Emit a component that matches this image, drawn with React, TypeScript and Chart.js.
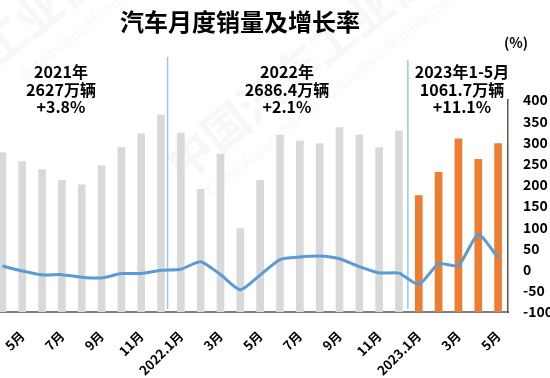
import React, { useEffect, useRef } from "react";
import { Chart, registerables } from "chart.js";

Chart.register(...registerables);

// ---- data ----
const categories = [
  "2021.4", "2021.5", "2021.6", "2021.7", "2021.8", "2021.9", "2021.10", "2021.11", "2021.12",
  "2022.1", "2022.2", "2022.3", "2022.4", "2022.5", "2022.6", "2022.7", "2022.8", "2022.9", "2022.10", "2022.11", "2022.12",
  "2023.1", "2023.2", "2023.3", "2023.4", "2023.5",
];
const tickLabels = [
  "", "5月", "", "7月", "", "9月", "", "11月", "",
  "2022.1月", "", "3月", "", "5月", "", "7月", "", "9月", "", "11月", "",
  "2023.1月", "", "3月", "", "5月",
];
// monthly sales (万辆)
const sales = [
  225.2, 212.8, 201.5, 186.4, 179.9, 206.7, 233.2, 252.2, 278.6,
  253.1, 173.7, 223.4, 118.1, 186.2, 250.2, 242.0, 238.3, 261.0, 250.5, 232.5, 255.9,
  164.9, 197.6, 245.1, 215.9, 238.2,
];
// year-on-year growth (%)
const growth = [
  8.6, -3.1, -12.4, -11.9, -17.8, -19.6, -9.4, -9.1, -1.6,
  0.9, 18.7, -11.7, -47.6, -12.6, 23.8, 29.7, 32.1, 25.7, 6.9, -7.9, -8.4,
  -35.0, 13.5, 9.7, 82.7, 27.9,
];
const rightTicks = { min: -100, max: 400, step: 50 };
const leftAxis = { min: 0, max: 300 };
const title = "汽车月度销量及增长率";
const periodNotes = [
  ["2021年", "2627万辆", "+3.8%"],
  ["2022年", "2686.4万辆", "+2.1%"],
  ["2023年1-5月", "1061.7万辆", "+11.1%"],
];

const OFFSET = 40; // canvas starts 40px left of the page
const FONT = '"Noto Sans CJK SC", "Noto Sans", sans-serif';

export default function App() {
  const ref = useRef<HTMLCanvasElement | null>(null);

  useEffect(() => {
    if (!ref.current) return;
    const barColors = categories.map((c) => (c.startsWith("2023") ? "#ED7D31" : "#D9D9D9"));

    const watermark = (ctx: any, x: number, y: number, big: string, small: string) => {
      ctx.save();
      ctx.fillStyle = "rgba(200,206,220,0.16)";
      ctx.translate(x + OFFSET, y);
      ctx.rotate(-0.68);
      ctx.font = `bold 46px ${FONT}`;
      ctx.textBaseline = "middle";
      ctx.fillText(big, 0, 0);
      ctx.font = `15px ${FONT}`;
      ctx.fillText(small, 14, 40);
      ctx.restore();
    };

    const decor = {
      id: "decor",
      beforeDraw(chart: any) {
        const ctx = chart.ctx;
        ctx.save();
        ctx.fillStyle = "#ffffff";
        ctx.fillRect(0, 0, chart.width, chart.height);
        ctx.restore();
        watermark(ctx, 172, 170, "中国汽车工业协会", "China Association of Automobile Manufacturers");
        watermark(ctx, -15, 55, "工业协会", "Automobile Manufacturers");
      },
      beforeDatasetsDraw(chart: any) {
        const ctx = chart.ctx;
        const xs = chart.scales.x;
        ctx.save();
        ctx.strokeStyle = "#9DC3E6";
        ctx.lineWidth = 1.5;
        const seps = [
          { i: 8.33, top: 57 },
          { i: 20.45, top: 60 },
        ];
        seps.forEach((s) => {
          const x = xs.getPixelForValue(s.i);
          ctx.beginPath();
          ctx.moveTo(x, s.top);
          ctx.lineTo(x, chart.chartArea.bottom - 3);
          ctx.stroke();
        });
        ctx.restore();
      },
      afterDraw(chart: any) {
        const ctx = chart.ctx;
        ctx.save();
        ctx.fillStyle = "#000";
        ctx.textAlign = "center";
        ctx.textBaseline = "middle";
        ctx.font = `bold 24px ${FONT}`;
        ctx.fillText(title, 240 + OFFSET, 22);
        ctx.font = `bold 14px ${FONT}`;
        ctx.fillText("(%)", 516 + OFFSET, 43);
        ctx.font = `bold 16px ${FONT}`;
        const centers = [61, 287, 462];
        periodNotes.forEach((lines, k) => {
          lines.forEach((t, j) => {
            ctx.fillText(t, centers[k] + OFFSET, 72 + j * 17.5);
          });
        });
        ctx.restore();
      },
    };

    const chart = new Chart(ref.current, {
      type: "bar",
      data: {
        labels: categories,
        datasets: [
          {
            type: "line",
            label: "增长率",
            data: growth,
            yAxisID: "y1",
            borderColor: "#5B9BD5",
            borderWidth: 3,
            pointRadius: 0,
            tension: 0.2,
            order: 0,
          } as any,
          {
            type: "bar",
            label: "销量",
            data: sales,
            yAxisID: "y",
            backgroundColor: barColors,
            barThickness: 7,
            order: 1,
          },
        ],
      },
      options: {
        responsive: false,
        animation: false,
        devicePixelRatio: 1,
        layout: { padding: { left: OFFSET - 7.5, top: 100, right: 0, bottom: 0 } },
        plugins: { legend: { display: false }, tooltip: { enabled: false }, title: { display: false } },
        scales: {
          x: {
            grid: { color: "transparent", drawTicks: false },
            border: { color: "#7F7F7F", width: 2 },
            ticks: {
              autoSkip: false,
              minRotation: 45,
              maxRotation: 45,
              padding: 16,
              color: "#000",
              font: { family: FONT, size: 13, weight: "bold" },
              callback: (_v: any, i: number) => tickLabels[i],
            },
            afterFit: (s: any) => {
              s.height = 66;
            },
          },
          y: {
            display: false,
            min: leftAxis.min,
            max: leftAxis.max,
          },
          y1: {
            position: "right",
            min: rightTicks.min,
            max: rightTicks.max,
            grid: { color: "transparent", drawTicks: false },
            border: { color: "#595959", width: 1.5 },
            ticks: {
              stepSize: rightTicks.step,
              padding: 15,
              color: "#000",
              font: { family: FONT, size: 14, weight: "bold" },
            },
            afterFit: (s: any) => {
              s.width = 60;
            },
          },
        },
      },
      plugins: [decor],
    });
    return () => chart.destroy();
  }, []);

  return (
    <div style={{ position: "fixed", left: 0, top: 0, width: 550, height: 378, overflow: "hidden", background: "#fff" }}>
      <canvas
        ref={ref}
        width={608}
        height={378}
        style={{ position: "absolute", left: -OFFSET, top: 0, width: 608, height: 378 }}
      />
    </div>
  );
}
